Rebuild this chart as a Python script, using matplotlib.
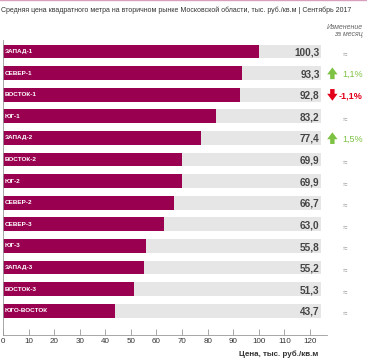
import matplotlib.pyplot as plt

# Data
regions = ['ЗАПАД-1', 'СЕВЕР-1', 'ВОСТОК-1', 'ЮГ-1', 'ЗАПАД-2', 'ВОСТОК-2', 'ЮГ-2',
           'СЕВЕР-2', 'СЕВЕР-3', 'ЮГ-3', 'ЗАПАД-3', 'ВОСТОК-3', 'ЮГО-ВОСТОК']
prices = [100.3, 93.3, 92.8, 83.2, 77.4, 69.9, 69.9, 66.7, 63.0, 55.8, 55.2, 51.3, 43.7]
changes = [None, 1.1, -1.1, None, 1.5, None, None, None, None, None, None, None, None]
xticks = [0, 10, 20, 30, 40, 50, 60, 70, 80, 90, 100, 110, 120]

plt.rcParams['font.family'] = ['Liberation Sans', 'DejaVu Sans']

bar_color = '#990050'
bg_color = '#E6E6E6'
green = '#7DC242'
red = '#E3001B'

fig = plt.figure(figsize=(3.67, 3.60), dpi=100)
ax = fig.add_axes([3 / 367, 1 - 335 / 360, 324 / 367, 295 / 360])

y = list(range(len(regions)))
ax.barh(y, [124.5] * len(y), height=0.64, color=bg_color, zorder=1)
ax.barh(y, prices, height=0.64, color=bar_color, zorder=2)

arrow_style = 'simple,head_width=0.75,head_length=0.5,tail_width=0.32'
for i, (name, p) in enumerate(zip(regions, prices)):
    ax.text(0.6, i, name, color='white', fontsize=4.6, fontweight='bold',
            va='center', ha='left', zorder=3)
    ax.text(123.8, i + 0.05, f'{p:.1f}'.replace('.', ','), color='#444444',
            fontsize=7.2, fontweight='bold', va='center', ha='right', zorder=3)
    c = changes[i]
    if c is None:
        ax.text(133.6, i + 0.15, '≈', color='#999999', fontsize=5.8,
                va='center', ha='center', clip_on=False)
    else:
        col = green if c > 0 else red
        if c > 0:
            start, end = i + 0.28, i - 0.26
        else:
            start, end = i - 0.26, i + 0.28
        ax.annotate('', xy=(128.8, end), xytext=(128.8, start),
                    arrowprops=dict(arrowstyle=arrow_style, color=col, lw=0,
                                    shrinkA=0, shrinkB=0, mutation_scale=10),
                    annotation_clip=False)
        ax.text(140.6, i + 0.05, f'{c:.1f}%'.replace('.', ','), color=col,
                fontsize=6.5, fontweight='bold' if c < 0 else 'normal',
                va='center', ha='right', clip_on=False)

ax.set_xlim(0, 126.7)
ax.set_ylim(13.12, -0.53)
ax.set_yticks([])
ax.set_xticks(xticks)
ax.tick_params(axis='x', direction='in', length=4, width=0.6, colors='#999999',
               labelcolor='#333333', labelsize=5.8, pad=2.5)
for s in ['top', 'right']:
    ax.spines[s].set_visible(False)
for s in ['left', 'bottom']:
    ax.spines[s].set_color('#999999')
    ax.spines[s].set_linewidth(0.6)

ax.text(123.2, 14.0, 'Цена, тыс. руб./кв.м', fontsize=5.8, fontweight='bold',
        color='#333333', ha='right', va='center', clip_on=False)

fig.text(1 / 367, 1 - 10 / 360,
         'Средняя цена квадратного метра на вторичном рынке Московской области, тыс. руб./кв.м | Сентябрь 2017',
         fontsize=5.0, color='#333333', ha='left', va='center')
fig.text(363 / 367, 1 - 31 / 360, 'Изменение\nза месяц', fontsize=5,
         style='italic', color='#666666', ha='right', va='center', linespacing=1.0)
fig.add_artist(plt.Line2D([0, 1], [0.999, 0.999], color='#D9A0BE', lw=1))

fig.savefig('out.png', dpi=100)
